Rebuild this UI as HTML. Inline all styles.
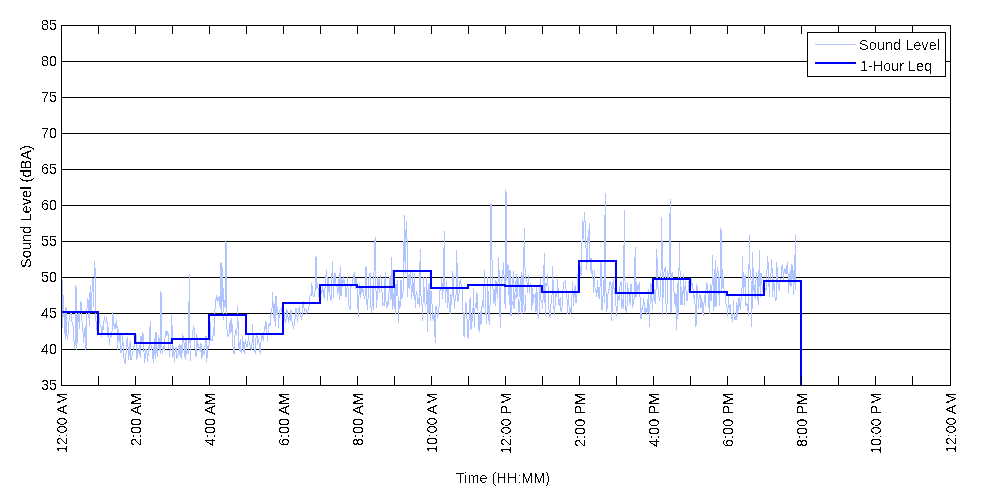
<!DOCTYPE html>
<html><head><meta charset="utf-8"><title>Sound Level</title>
<style>html,body{margin:0;padding:0;background:#fff;} svg{display:block;}</style>
</head><body>
<svg width="1000" height="500" viewBox="0 0 1000 500">
<rect x="0" y="0" width="1000" height="500" fill="#fff"/>
<defs><filter id="th" filterUnits="userSpaceOnUse" x="0" y="0" width="1000" height="500" color-interpolation-filters="sRGB"><feComponentTransfer><feFuncA type="discrete" tableValues="0 0 0 0 0 0 0 0 0 0 0 0 1 1 1 1 1 1 1 1"/></feComponentTransfer></filter><filter id="thr" filterUnits="userSpaceOnUse" x="0" y="0" width="1000" height="500" color-interpolation-filters="sRGB"><feComponentTransfer><feFuncA type="discrete" tableValues="0 0 0 0 0 0 0 0 0 0 1 1 1 1 1 1 1 1 1 1"/></feComponentTransfer></filter></defs>
<path d="M61,61.5H951M61,97.5H951M61,133.5H951M61,169.5H951M61,205.5H951M61,241.5H951M61,277.5H951M61,313.5H951M61,349.5H951" stroke="#000" stroke-width="1" fill="none" shape-rendering="crispEdges"/>
<polyline points="61.0,330.4 61.8,343.2 62.7,280.0 63.5,316.4 64.3,314.9 65.2,339.1 66.0,307.0 66.8,335.3 67.7,340.0 68.5,327.0 69.3,317.5 70.2,314.6 71.0,313.0 71.8,320.9 72.7,325.1 73.5,328.2 74.3,348.1 75.2,343.5 76.0,285.0 76.8,350.0 77.7,318.7 78.5,309.9 79.3,328.6 80.2,306.6 81.0,301.3 81.8,321.5 82.7,323.0 83.5,343.3 84.3,334.0 85.2,326.5 86.0,350.0 86.8,311.5 87.7,298.0 88.5,303.1 89.3,326.3 90.2,285.0 91.0,312.3 91.8,296.9 92.7,278.0 93.5,306.7 94.3,261.0 95.2,270.0 96.0,320.9 96.8,331.3 97.7,326.9 98.5,330.9 99.3,314.8 100.2,325.8 101.0,326.9 101.8,336.9 102.7,325.7 103.5,330.1 104.3,316.1 105.2,322.6 106.0,322.2 106.8,317.1 107.7,336.5 108.5,327.2 109.3,344.6 110.2,336.1 111.0,335.4 111.8,336.9 112.7,312.0 113.5,321.7 114.3,328.7 115.2,323.3 116.0,328.5 116.8,318.6 117.7,349.6 118.5,328.7 119.3,342.7 120.2,333.4 121.0,352.6 121.8,350.2 122.7,333.8 123.5,354.4 124.3,362.3 125.2,363.3 126.0,353.7 126.8,339.3 127.7,337.8 128.5,360.0 129.3,353.2 130.2,340.3 131.0,360.0 131.8,356.5 132.7,353.6 133.5,346.9 134.3,346.7 135.2,341.0 136.0,335.0 136.8,359.6 137.7,351.2 138.5,352.2 139.3,344.9 140.2,357.8 141.0,336.1 141.8,343.3 142.7,333.3 143.5,334.4 144.3,362.9 145.2,358.2 146.0,349.3 146.8,350.4 147.7,362.0 148.5,346.4 149.3,351.3 150.2,321.0 151.0,344.6 151.8,347.7 152.7,356.3 153.5,362.6 154.3,338.2 155.2,359.2 156.0,332.1 156.8,351.4 157.7,357.0 158.5,335.2 159.3,340.1 160.2,354.1 161.0,291.0 161.8,345.2 162.7,353.5 163.5,345.6 164.3,350.8 165.2,335.0 166.0,331.2 166.8,336.1 167.7,331.2 168.5,336.0 169.3,357.3 170.2,349.2 171.0,340.0 171.8,315.0 172.7,358.2 173.5,345.9 174.3,361.5 175.2,349.3 176.0,346.9 176.8,358.9 177.7,356.1 178.5,350.1 179.3,343.8 180.2,357.4 181.0,344.7 181.8,358.9 182.7,333.8 183.5,340.5 184.3,344.8 185.2,359.5 186.0,339.6 186.8,353.5 187.7,351.9 188.5,352.8 189.3,274.0 190.2,360.5 191.0,341.3 191.8,339.5 192.7,332.4 193.5,325.8 194.3,329.6 195.2,353.9 196.0,356.5 196.8,334.5 197.7,346.1 198.5,345.1 199.3,348.8 200.2,351.8 201.0,343.4 201.8,359.2 202.7,350.3 203.5,353.0 204.3,354.1 205.2,344.2 206.0,335.6 206.8,362.0 207.7,347.2 208.5,348.3 209.3,344.0 210.2,321.8 211.0,341.0 211.8,339.7 212.7,340.3 213.5,327.4 214.3,335.8 215.2,302.0 216.0,299.5 216.8,295.5 217.7,301.0 218.5,300.3 219.3,296.1 220.2,309.0 221.0,262.0 221.8,312.6 222.7,267.0 223.5,320.3 224.3,299.9 225.2,308.4 226.0,241.0 226.8,327.1 227.7,337.3 228.5,334.8 229.3,333.9 230.2,320.3 231.0,332.7 231.8,318.5 232.7,342.6 233.5,353.6 234.3,353.6 235.2,330.3 236.0,334.4 236.8,334.9 237.7,306.0 238.5,343.2 239.3,350.7 240.2,339.2 241.0,351.7 241.8,352.5 242.7,335.8 243.5,348.7 244.3,354.1 245.2,338.8 246.0,344.3 246.8,346.6 247.7,346.0 248.5,334.0 249.3,344.1 250.2,345.1 251.0,349.2 251.8,349.2 252.7,324.0 253.5,346.0 254.3,350.7 255.2,352.4 256.0,338.0 256.8,332.8 257.7,344.8 258.5,338.8 259.3,344.8 260.2,353.5 261.0,342.3 261.8,335.7 262.7,337.4 263.5,341.4 264.3,326.6 265.2,329.4 266.0,321.4 266.8,333.8 267.7,340.7 268.5,326.9 269.3,322.8 270.2,326.4 271.0,315.1 271.8,312.7 272.7,292.0 273.5,317.6 274.3,304.3 275.2,326.5 276.0,296.0 276.8,315.4 277.7,306.8 278.5,327.7 279.3,312.3 280.2,309.8 281.0,308.8 281.8,306.9 282.7,327.6 283.5,314.6 284.3,312.5 285.2,322.9 286.0,319.3 286.8,309.5 287.7,312.7 288.5,322.5 289.3,315.1 290.2,320.8 291.0,309.6 291.8,321.2 292.7,325.2 293.5,327.8 294.3,325.4 295.2,317.9 296.0,308.2 296.8,315.9 297.7,321.8 298.5,309.6 299.3,308.0 300.2,312.6 301.0,316.9 301.8,319.7 302.7,304.1 303.5,301.4 304.3,311.6 305.2,309.6 306.0,309.3 306.8,313.6 307.7,312.2 308.5,308.6 309.3,305.2 310.2,293.8 311.0,296.1 311.8,283.0 312.7,294.4 313.5,296.5 314.3,296.4 315.2,290.0 316.0,256.0 316.8,289.3 317.7,282.9 318.5,296.7 319.3,293.0 320.2,288.4 321.0,290.1 321.8,293.9 322.7,286.1 323.5,294.9 324.3,298.8 325.2,285.1 326.0,275.4 326.8,270.0 327.7,300.7 328.5,278.3 329.3,290.4 330.2,296.4 331.0,300.7 331.8,276.8 332.7,261.0 333.5,298.3 334.3,275.4 335.2,272.8 336.0,286.0 336.8,284.8 337.7,294.8 338.5,279.2 339.3,299.5 340.2,266.0 341.0,296.1 341.8,277.8 342.7,287.0 343.5,276.0 344.3,282.7 345.2,284.3 346.0,296.6 346.8,291.2 347.7,277.4 348.5,304.7 349.3,307.1 350.2,308.8 351.0,286.2 351.8,286.7 352.7,281.0 353.5,276.4 354.3,272.5 355.2,288.6 356.0,278.5 356.8,278.6 357.7,303.2 358.5,317.0 359.3,282.7 360.2,297.8 361.0,286.6 361.8,293.9 362.7,286.4 363.5,293.0 364.3,298.4 365.2,295.8 366.0,266.0 366.8,303.6 367.7,309.6 368.5,283.2 369.3,275.7 370.2,272.9 371.0,307.8 371.8,313.3 372.7,284.6 373.5,309.5 374.3,251.0 375.2,237.5 376.0,291.1 376.8,307.8 377.7,276.8 378.5,281.5 379.3,293.3 380.2,275.5 381.0,278.5 381.8,287.7 382.7,304.6 383.5,303.5 384.3,305.8 385.2,272.0 386.0,302.2 386.8,307.8 387.7,302.4 388.5,303.9 389.3,285.3 390.2,275.1 391.0,300.2 391.8,257.0 392.7,309.7 393.5,301.4 394.3,287.9 395.2,314.6 396.0,284.3 396.8,295.8 397.7,279.6 398.5,323.0 399.3,301.1 400.2,307.1 401.0,279.7 401.8,298.5 402.7,294.9 403.5,288.6 404.3,215.0 405.2,274.2 406.0,230.0 406.8,221.0 407.7,297.3 408.5,274.7 409.3,288.7 410.2,270.3 411.0,284.6 411.8,298.5 412.7,271.6 413.5,296.2 414.3,273.4 415.2,307.5 416.0,295.3 416.8,290.6 417.7,303.6 418.5,298.0 419.3,307.1 420.2,249.5 421.0,296.1 421.8,300.0 422.7,321.4 423.5,277.5 424.3,291.7 425.2,305.4 426.0,304.1 426.8,277.1 427.7,332.0 428.5,286.7 429.3,282.9 430.2,320.5 431.0,291.3 431.8,300.1 432.7,318.3 433.5,320.0 434.3,312.8 435.2,342.6 436.0,306.3 436.8,308.7 437.7,318.4 438.5,310.4 439.3,304.6 440.2,286.9 441.0,290.4 441.8,278.5 442.7,299.2 443.5,281.2 444.3,231.5 445.2,302.6 446.0,292.1 446.8,281.4 447.7,307.6 448.5,288.9 449.3,310.8 450.2,312.2 451.0,294.5 451.8,304.5 452.7,270.8 453.5,282.3 454.3,309.0 455.2,299.3 456.0,295.9 456.8,250.0 457.7,302.0 458.5,298.7 459.3,291.4 460.2,278.9 461.0,284.1 461.8,287.0 462.7,297.0 463.5,332.9 464.3,337.0 465.2,306.9 466.0,302.4 466.8,313.5 467.7,336.7 468.5,338.0 469.3,309.0 470.2,296.9 471.0,329.8 471.8,314.0 472.7,321.8 473.5,288.3 474.3,327.0 475.2,303.0 476.0,308.3 476.8,291.9 477.7,301.2 478.5,326.7 479.3,331.7 480.2,311.5 481.0,324.7 481.8,308.6 482.7,299.9 483.5,308.4 484.3,270.0 485.2,291.3 486.0,315.2 486.8,323.7 487.7,277.3 488.5,312.5 489.3,325.1 490.2,300.6 491.0,203.0 491.8,254.0 492.7,279.3 493.5,304.3 494.3,289.1 495.2,305.8 496.0,280.5 496.8,291.9 497.7,297.8 498.5,257.0 499.3,276.6 500.2,327.6 501.0,286.9 501.8,280.1 502.7,275.3 503.5,261.7 504.3,282.7 505.2,308.8 506.0,189.6 506.8,277.5 507.7,268.3 508.5,277.6 509.3,304.7 510.2,294.4 511.0,315.8 511.8,305.5 512.7,301.5 513.5,308.0 514.3,308.1 515.2,288.4 516.0,280.7 516.8,287.8 517.7,291.8 518.5,277.0 519.3,288.0 520.2,299.6 521.0,279.1 521.8,275.3 522.7,276.5 523.5,282.0 524.3,228.0 525.2,278.3 526.0,278.9 526.8,278.6 527.7,293.2 528.5,275.5 529.3,292.7 530.2,283.1 531.0,286.5 531.8,311.4 532.7,288.4 533.5,303.0 534.3,296.0 535.2,294.7 536.0,312.4 536.8,285.4 537.7,314.8 538.5,318.9 539.3,309.0 540.2,278.0 541.0,300.2 541.8,301.5 542.7,309.2 543.5,286.0 544.3,253.0 545.2,315.6 546.0,283.4 546.8,285.4 547.7,274.4 548.5,304.3 549.3,313.2 550.2,317.7 551.0,304.1 551.8,303.7 552.7,266.0 553.5,300.4 554.3,314.6 555.2,304.3 556.0,292.0 556.8,296.5 557.7,278.8 558.5,302.3 559.3,306.1 560.2,296.6 561.0,311.3 561.8,310.7 562.7,294.9 563.5,282.1 564.3,281.8 565.2,281.0 566.0,288.7 566.8,295.1 567.7,313.9 568.5,294.2 569.3,312.7 570.2,308.5 571.0,313.9 571.8,299.1 572.7,282.2 573.5,306.4 574.3,292.4 575.2,285.1 576.0,302.7 576.8,299.0 577.7,276.4 578.5,270.1 579.3,293.1 580.2,265.9 581.0,275.9 581.8,248.2 582.7,220.0 583.5,238.6 584.3,212.0 585.2,222.9 586.0,247.9 586.8,270.4 587.7,237.5 588.5,242.9 589.3,223.0 590.2,271.3 591.0,258.0 591.8,273.9 592.7,270.2 593.5,292.7 594.3,269.8 595.2,291.2 596.0,290.2 596.8,296.6 597.7,279.9 598.5,296.1 599.3,299.1 600.2,284.0 601.0,262.3 601.8,310.3 602.7,306.7 603.5,279.8 604.3,302.6 605.2,192.6 606.0,292.0 606.8,312.4 607.7,298.0 608.5,289.1 609.3,289.2 610.2,280.7 611.0,284.6 611.8,320.6 612.7,284.0 613.5,278.9 614.3,293.9 615.2,286.9 616.0,306.0 616.8,316.7 617.7,293.6 618.5,300.5 619.3,299.2 620.2,282.6 621.0,281.1 621.8,309.1 622.7,299.3 623.5,309.4 624.3,210.0 625.2,298.5 626.0,310.8 626.8,313.2 627.7,283.0 628.5,295.1 629.3,292.1 630.2,305.1 631.0,284.1 631.8,286.9 632.7,307.8 633.5,299.8 634.3,298.0 635.2,247.0 636.0,296.9 636.8,282.2 637.7,293.1 638.5,286.3 639.3,282.5 640.2,300.6 641.0,319.2 641.8,308.8 642.7,309.6 643.5,297.7 644.3,304.9 645.2,313.2 646.0,307.9 646.8,314.6 647.7,305.4 648.5,288.8 649.3,327.0 650.2,298.2 651.0,283.5 651.8,298.9 652.7,309.8 653.5,282.0 654.3,293.5 655.2,303.7 656.0,290.7 656.8,249.0 657.7,283.9 658.5,292.1 659.3,300.5 660.2,295.7 661.0,271.5 661.8,217.0 662.7,314.5 663.5,273.0 664.3,271.9 665.2,267.2 666.0,303.9 666.8,314.8 667.7,270.3 668.5,277.5 669.3,271.8 670.2,199.0 671.0,313.1 671.8,273.8 672.7,271.8 673.5,288.3 674.3,293.9 675.2,306.7 676.0,293.3 676.8,330.0 677.7,283.0 678.5,315.4 679.3,242.0 680.2,278.6 681.0,305.3 681.8,287.1 682.7,305.3 683.5,273.7 684.3,306.2 685.2,281.3 686.0,290.1 686.8,301.4 687.7,297.7 688.5,283.2 689.3,280.2 690.2,286.4 691.0,279.0 691.8,285.0 692.7,283.6 693.5,297.2 694.3,296.4 695.2,305.4 696.0,327.0 696.8,283.6 697.7,292.0 698.5,308.9 699.3,293.7 700.2,295.7 701.0,308.4 701.8,298.0 702.7,312.6 703.5,316.1 704.3,295.2 705.2,305.5 706.0,290.1 706.8,282.1 707.7,291.0 708.5,298.8 709.3,313.5 710.2,284.0 711.0,301.2 711.8,294.2 712.7,255.0 713.5,311.1 714.3,305.3 715.2,260.0 716.0,307.2 716.8,274.7 717.7,267.2 718.5,276.3 719.3,305.5 720.2,268.9 721.0,228.0 721.8,293.3 722.7,269.2 723.5,288.3 724.3,289.1 725.2,295.0 726.0,304.1 726.8,305.1 727.7,317.1 728.5,293.9 729.3,311.2 730.2,303.9 731.0,312.6 731.8,317.5 732.7,321.6 733.5,299.9 734.3,320.0 735.2,316.9 736.0,320.3 736.8,301.6 737.7,317.1 738.5,301.4 739.3,296.7 740.2,309.5 741.0,301.2 741.8,298.2 742.7,256.0 743.5,295.4 744.3,281.8 745.2,274.3 746.0,305.7 746.8,302.7 747.7,307.6 748.5,315.6 749.3,235.0 750.2,279.0 751.0,280.3 751.8,327.0 752.7,252.0 753.5,290.7 754.3,285.0 755.2,299.3 756.0,279.9 756.8,272.5 757.7,298.3 758.5,305.4 759.3,250.0 760.2,296.8 761.0,273.2 761.8,283.2 762.7,291.5 763.5,279.7 764.3,280.5 765.2,290.0 766.0,290.3 766.8,273.9 767.7,256.0 768.5,270.4 769.3,296.5 770.2,275.2 771.0,273.0 771.8,259.0 772.7,296.6 773.5,278.8 774.3,285.7 775.2,299.4 776.0,300.8 776.8,262.0 777.7,282.2 778.5,286.6 779.3,290.6 780.2,280.3 781.0,277.7 781.8,266.7 782.7,265.1 783.5,281.0 784.3,268.5 785.2,269.8 786.0,274.1 786.8,265.7 787.7,262.3 788.5,292.7 789.3,281.4 790.2,270.5 791.0,286.5 791.8,264.1 792.7,268.3 793.5,295.4 794.3,255.0 795.2,289.5 796.0,235.0" fill="none" stroke="#B0C4FF" stroke-width="1" shape-rendering="crispEdges"/>
<polyline points="506.0,281.7 506.7,263.8 507.3,275.7 508.0,264.5 508.7,270.9 509.3,300.2 510.0,270.2 510.7,273.7 511.3,314.6 512.0,284.0 512.7,284.0 513.3,271.5 514.0,307.8 514.7,301.6 515.3,295.2 516.0,298.6 516.7,274.3 517.3,282.1 518.0,297.3 518.7,314.7 519.3,308.8 520.0,300.9 520.7,295.5 521.3,272.2 522.0,313.5 522.7,275.1 523.3,278.3 524.0,305.2 524.7,311.1 525.3,310.3 526.0,294.9" fill="none" stroke="#B0C4FF" stroke-width="1" shape-rendering="crispEdges"/>
<path d="M61.0,312H98.0V334H135.0V342.5H172.0V338.5H209.0V314.5H246.0V333.5H283.0V302.5H320.0V284.5H357.0V286.5H394.0V270.5H431.0V287.5H468.0V284.5H505.0V285.5H542.0V291.5H579.0V260.5H616.0V292.5H653.0V278.5H690.0V291.5H727.0V294.5H764.0V281H801.0V385.5" fill="none" stroke="#0000FF" stroke-width="2" stroke-linejoin="miter" shape-rendering="crispEdges"/>
<path d="M61.5,25.5H950.5V385.5H61.5ZM98.5,386V376M98.5,25V34M135.5,386V376M135.5,25V34M172.5,386V376M172.5,25V34M209.5,386V376M209.5,25V34M246.5,386V376M246.5,25V34M283.5,386V376M283.5,25V34M320.5,386V376M320.5,25V34M357.5,386V376M357.5,25V34M394.5,386V376M394.5,25V34M431.5,386V376M431.5,25V34M468.5,386V376M468.5,25V34M505.5,386V376M505.5,25V34M542.5,386V376M542.5,25V34M579.5,386V376M579.5,25V34M616.5,386V376M616.5,25V34M653.5,386V376M653.5,25V34M690.5,386V376M690.5,25V34M727.5,386V376M727.5,25V34M764.5,386V376M764.5,25V34M801.5,386V376M801.5,25V34M838.5,386V376M838.5,25V34M875.5,386V376M875.5,25V34M912.5,386V376M912.5,25V34" stroke="#000" stroke-width="1" fill="none" shape-rendering="crispEdges"/>
<rect x="807.5" y="32.5" width="138" height="44" fill="#fff" stroke="#000" stroke-width="1" shape-rendering="crispEdges"/>
<path d="M815,44.5H856" stroke="#B0C4FF" stroke-width="1" shape-rendering="crispEdges"/>
<path d="M815,63H856" stroke="#0000FF" stroke-width="2" shape-rendering="crispEdges"/>
<g filter="url(#th)"><text x="41.00" y="30" font-size="15.5" textLength="16.03" lengthAdjust="spacingAndGlyphs" font-family="'Liberation Sans', Arial, sans-serif">85</text>
<text x="41.00" y="66" font-size="15.5" textLength="16.03" lengthAdjust="spacingAndGlyphs" font-family="'Liberation Sans', Arial, sans-serif">80</text>
<text x="41.00" y="102" font-size="15.5" textLength="16.03" lengthAdjust="spacingAndGlyphs" font-family="'Liberation Sans', Arial, sans-serif">75</text>
<text x="41.00" y="138" font-size="15.5" textLength="16.03" lengthAdjust="spacingAndGlyphs" font-family="'Liberation Sans', Arial, sans-serif">70</text>
<text x="41.00" y="174" font-size="15.5" textLength="16.03" lengthAdjust="spacingAndGlyphs" font-family="'Liberation Sans', Arial, sans-serif">65</text>
<text x="41.00" y="210" font-size="15.5" textLength="16.03" lengthAdjust="spacingAndGlyphs" font-family="'Liberation Sans', Arial, sans-serif">60</text>
<text x="41.00" y="246" font-size="15.5" textLength="16.03" lengthAdjust="spacingAndGlyphs" font-family="'Liberation Sans', Arial, sans-serif">55</text>
<text x="41.00" y="282" font-size="15.5" textLength="16.03" lengthAdjust="spacingAndGlyphs" font-family="'Liberation Sans', Arial, sans-serif">50</text>
<text x="41.00" y="318" font-size="15.5" textLength="16.03" lengthAdjust="spacingAndGlyphs" font-family="'Liberation Sans', Arial, sans-serif">45</text>
<text x="41.00" y="354" font-size="15.5" textLength="16.03" lengthAdjust="spacingAndGlyphs" font-family="'Liberation Sans', Arial, sans-serif">40</text>
<text x="41.00" y="390" font-size="15.5" textLength="16.03" lengthAdjust="spacingAndGlyphs" font-family="'Liberation Sans', Arial, sans-serif">35</text>
<text x="456.00" y="483" font-size="15.5" textLength="94.03" lengthAdjust="spacingAndGlyphs" font-family="'Liberation Sans', Arial, sans-serif">Time (HH:MM)</text>
<text x="859.00" y="50" font-size="15.5" textLength="81.00" lengthAdjust="spacingAndGlyphs" font-family="'Liberation Sans', Arial, sans-serif">Sound Level</text>
<text x="860.00" y="71" font-size="15.5" textLength="71.97" lengthAdjust="spacingAndGlyphs" font-family="'Liberation Sans', Arial, sans-serif">1-Hour Leq</text></g>
<g filter="url(#thr)"><text transform="translate(66.5,453.00) rotate(-90)" x="0" y="0" font-size="15.5" textLength="60.00" lengthAdjust="spacingAndGlyphs" font-family="'Liberation Sans', Arial, sans-serif">12:00 AM</text>
<text transform="translate(140.5,446.00) rotate(-90)" x="0" y="0" font-size="15.5" textLength="52.99" lengthAdjust="spacingAndGlyphs" font-family="'Liberation Sans', Arial, sans-serif">2:00 AM</text>
<text transform="translate(214.5,446.00) rotate(-90)" x="0" y="0" font-size="15.5" textLength="52.99" lengthAdjust="spacingAndGlyphs" font-family="'Liberation Sans', Arial, sans-serif">4:00 AM</text>
<text transform="translate(288.5,446.00) rotate(-90)" x="0" y="0" font-size="15.5" textLength="52.99" lengthAdjust="spacingAndGlyphs" font-family="'Liberation Sans', Arial, sans-serif">6:00 AM</text>
<text transform="translate(362.5,446.00) rotate(-90)" x="0" y="0" font-size="15.5" textLength="52.99" lengthAdjust="spacingAndGlyphs" font-family="'Liberation Sans', Arial, sans-serif">8:00 AM</text>
<text transform="translate(436.5,453.00) rotate(-90)" x="0" y="0" font-size="15.5" textLength="60.00" lengthAdjust="spacingAndGlyphs" font-family="'Liberation Sans', Arial, sans-serif">10:00 AM</text>
<text transform="translate(510.5,454.00) rotate(-90)" x="0" y="0" font-size="15.5" textLength="61.01" lengthAdjust="spacingAndGlyphs" font-family="'Liberation Sans', Arial, sans-serif">12:00 PM</text>
<text transform="translate(584.5,447.00) rotate(-90)" x="0" y="0" font-size="15.5" textLength="53.99" lengthAdjust="spacingAndGlyphs" font-family="'Liberation Sans', Arial, sans-serif">2:00 PM</text>
<text transform="translate(658.5,447.00) rotate(-90)" x="0" y="0" font-size="15.5" textLength="53.99" lengthAdjust="spacingAndGlyphs" font-family="'Liberation Sans', Arial, sans-serif">4:00 PM</text>
<text transform="translate(732.5,447.00) rotate(-90)" x="0" y="0" font-size="15.5" textLength="53.99" lengthAdjust="spacingAndGlyphs" font-family="'Liberation Sans', Arial, sans-serif">6:00 PM</text>
<text transform="translate(806.5,447.00) rotate(-90)" x="0" y="0" font-size="15.5" textLength="53.99" lengthAdjust="spacingAndGlyphs" font-family="'Liberation Sans', Arial, sans-serif">8:00 PM</text>
<text transform="translate(880.5,454.00) rotate(-90)" x="0" y="0" font-size="15.5" textLength="61.01" lengthAdjust="spacingAndGlyphs" font-family="'Liberation Sans', Arial, sans-serif">10:00 PM</text>
<text transform="translate(955.5,453.00) rotate(-90)" x="0" y="0" font-size="15.5" textLength="60.00" lengthAdjust="spacingAndGlyphs" font-family="'Liberation Sans', Arial, sans-serif">12:00 AM</text>
<text transform="translate(31,268.00) rotate(-90)" x="0" y="0" font-size="15.5" textLength="122.99" lengthAdjust="spacingAndGlyphs" font-family="'Liberation Sans', Arial, sans-serif">Sound Level (dBA)</text></g>
</svg>
</body></html>
